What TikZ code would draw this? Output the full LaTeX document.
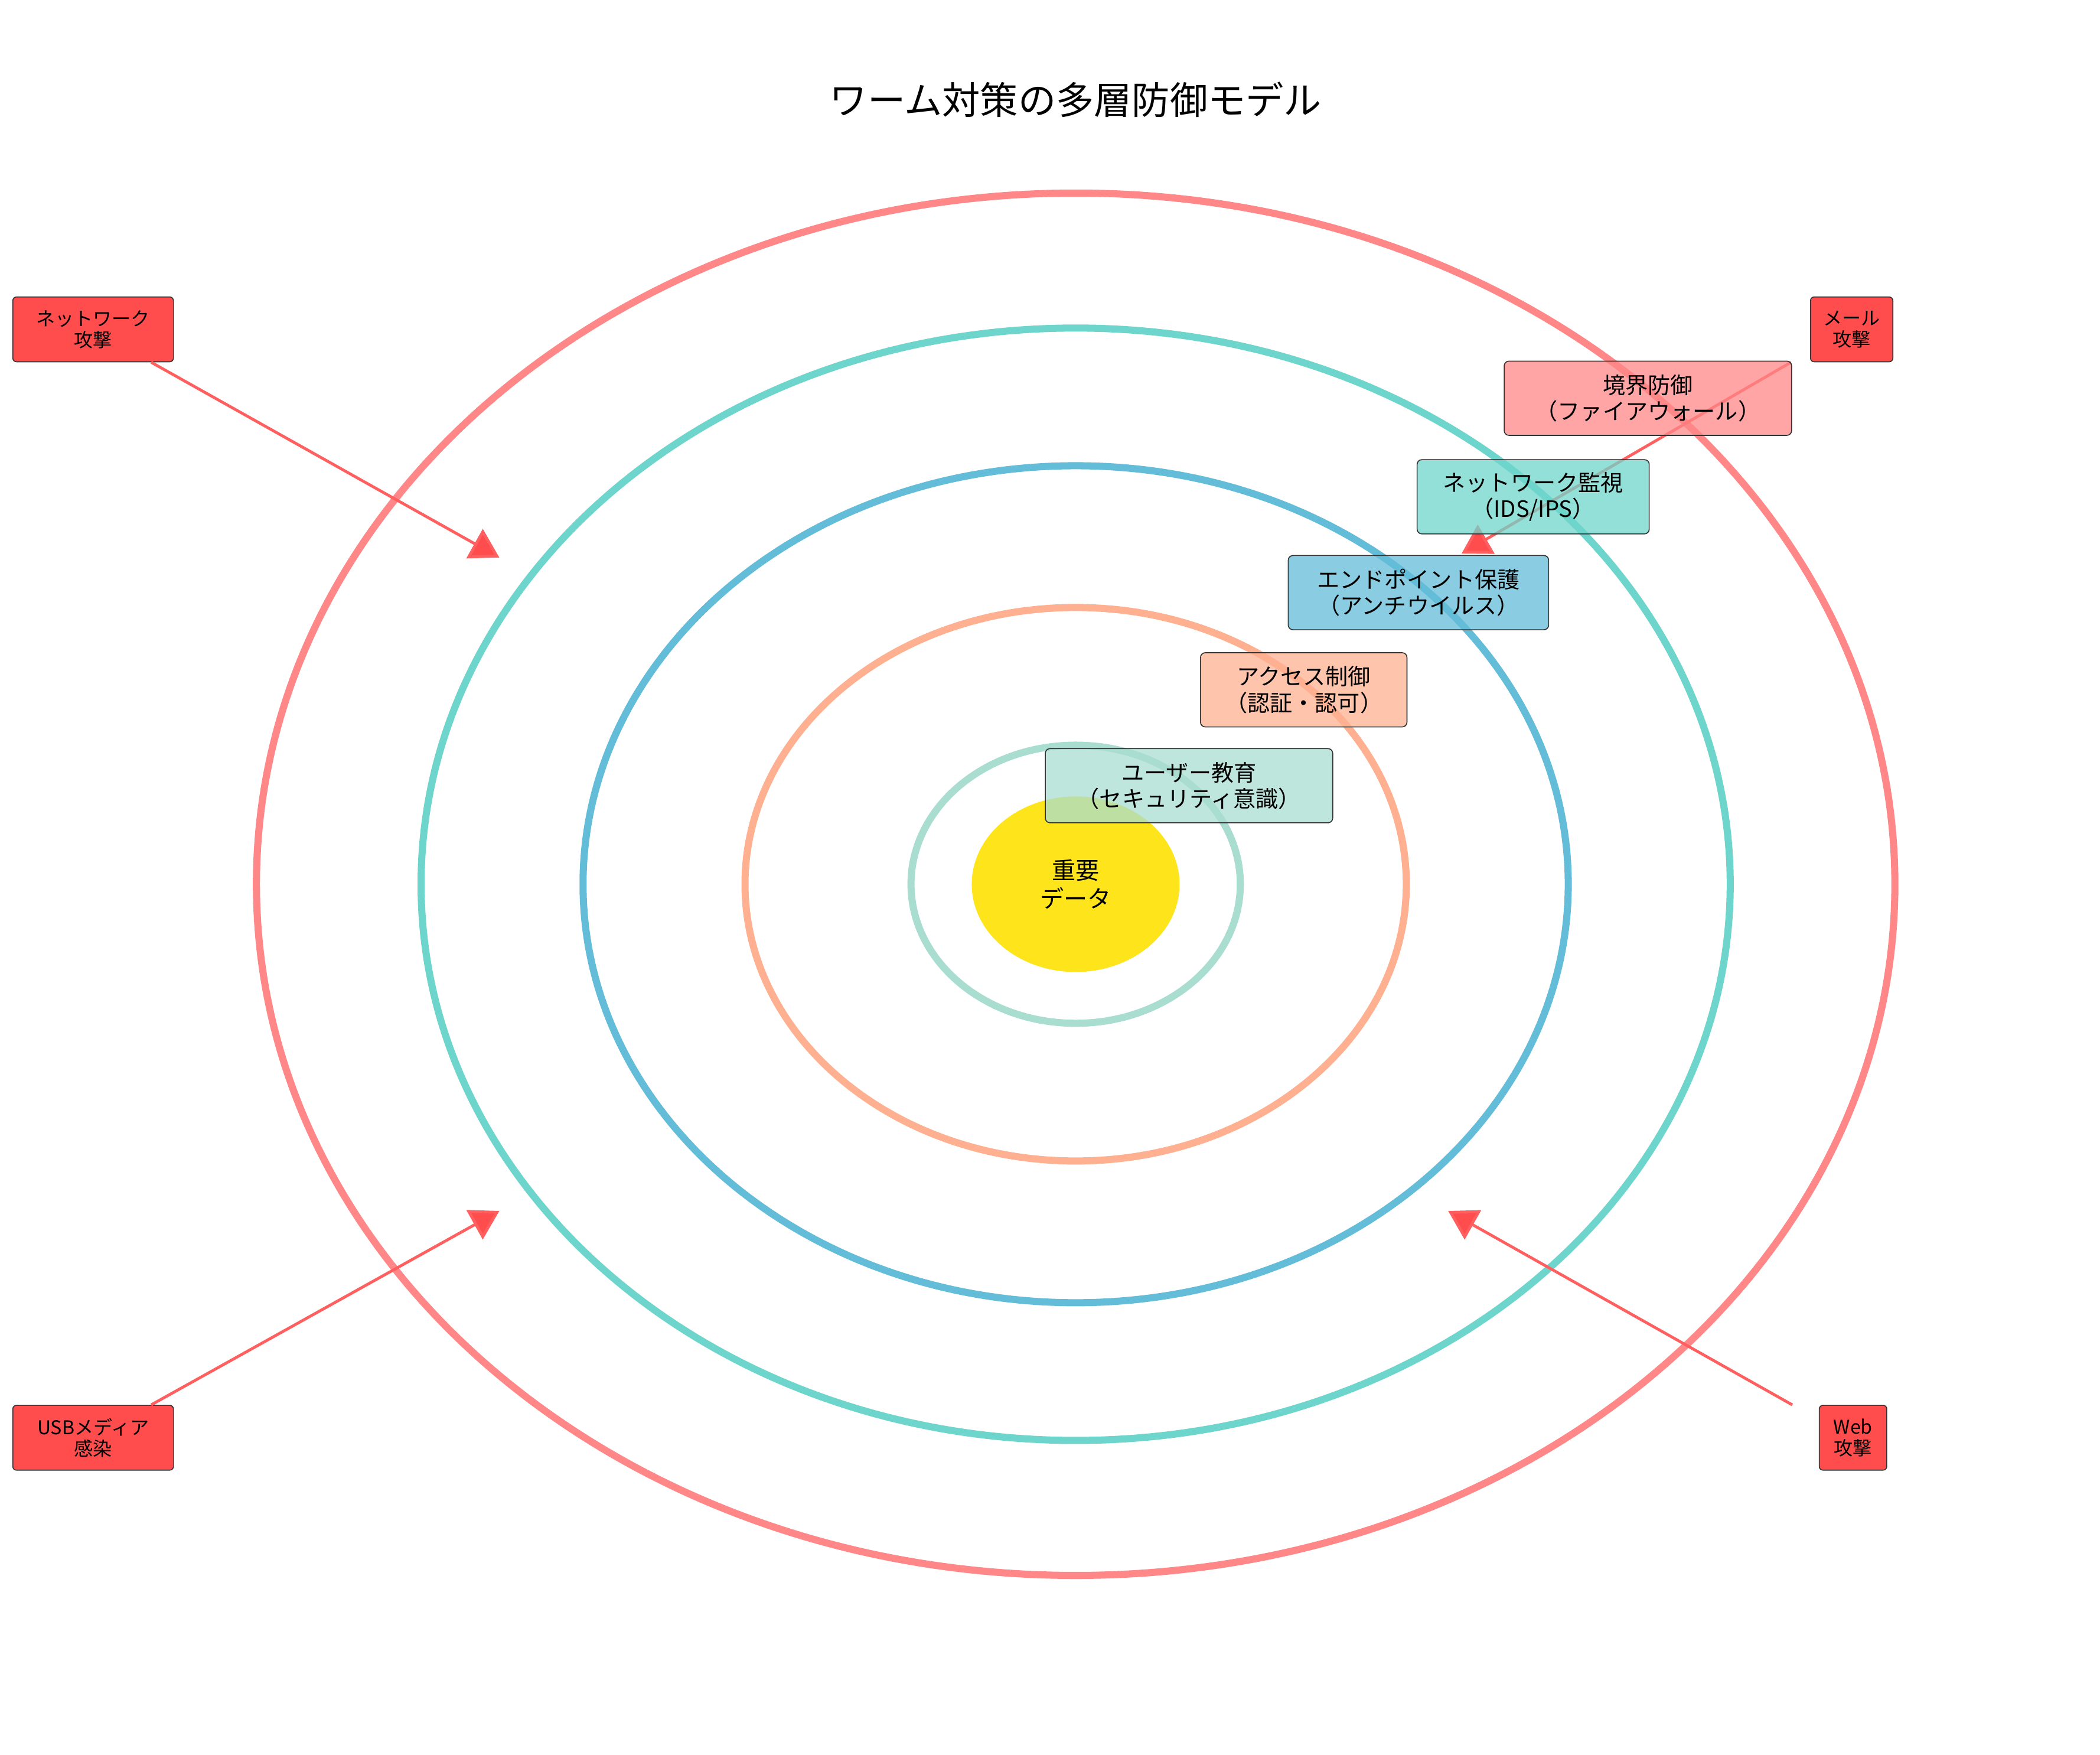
\documentclass[tikz,border=0pt]{standalone}
\usepackage{fontspec}
\setmainfont{Noto Sans CJK JP}
\usetikzlibrary{arrows.meta}
\definecolor{ringred}{HTML}{FF8787}
\definecolor{ringteal}{HTML}{6DD5CB}
\definecolor{ringblue}{HTML}{63BCD8}
\definecolor{ringorange}{HTML}{FFB090}
\definecolor{ringmint}{HTML}{A8DDD0}
\definecolor{attack}{HTML}{FF4D4D}
\tikzset{
  layer/.style={draw=black!80,rounded corners=2pt,fill opacity=.75,text opacity=1,align=center,font=\fontsize{9.5}{11}\selectfont,minimum height=1.1cm,inner xsep=4pt},
  threat/.style={draw=black!80,fill=attack,rounded corners=1.5pt,align=center,font=\fontsize{8}{9}\selectfont,minimum height=.96cm,inner xsep=1pt},
  hit/.style={very thick,draw=attack!90,-{Triangle[length=12pt,width=14pt,fill=attack]}}
}
\begin{document}
\begin{tikzpicture}[x=0.02cm,y=-0.02cm]
\useasboundingbox (0,0) rectangle (1556,1300);
\node[font=\fontsize{16}{18}\selectfont] (title) at (797,74) {ワーム対策の多層防御モデル};
\draw[ringred,line width=3pt] (797,655) ellipse[x radius=607,y radius=512];
\draw[ringteal,line width=3pt] (797,655) ellipse[x radius=485,y radius=412];
\draw[ringblue,line width=3pt] (797,655) ellipse[x radius=365,y radius=310];
\draw[ringorange,line width=3pt] (797,655) ellipse[x radius=245,y radius=205];
\draw[ringmint,line width=3pt] (797,655) ellipse[x radius=122,y radius=103];
\fill[yellow!85!orange!90!white] (797,655) ellipse[x radius=77,y radius=65];
\node[align=center,font=\fontsize{10}{12}\selectfont] (data) at (797,655) {重要\\データ};
% attacks
\node[threat,minimum width=2.38cm] (netatk) at (69,244) {ネットワーク\\攻撃};
\node[threat,minimum width=1.22cm] (mailatk) at (1372,244) {メール\\攻撃};
\node[threat,minimum width=2.38cm] (usbatk) at (69,1065) {USBメディア\\感染};
\node[threat,minimum width=1.0cm] (webatk) at (1373,1065) {Web\\攻撃};
\coordinate (netend) at (370,413);
\coordinate (mailend) at (1083,410);
\coordinate (usbend) at (370,897);
\coordinate (webend) at (1073,897);
\draw[hit] ([xshift=0.86cm]netatk.south) -- (netend);
\draw[hit] ([xshift=-0.9cm]mailatk.south) -- (mailend);
\draw[hit] ([xshift=0.86cm]usbatk.north) -- (usbend);
\draw[hit] ([xshift=-0.9cm]webatk.north) -- (webend);
% layers
\node[layer,fill=ringred,minimum width=4.26cm] (border) at (1221,295) {境界防御\\（ファイアウォール）};
\node[layer,fill=ringteal,minimum width=3.44cm] (netmon) at (1136,368) {ネットワーク監視\\（IDS/IPS）};
\node[layer,fill=ringblue,minimum width=3.86cm] (endpt) at (1051,439) {エンドポイント保護\\（アンチウイルス）};
\node[layer,fill=ringorange,minimum width=3.06cm] (access) at (966,511) {アクセス制御\\（認証・認可）};
\node[layer,fill=ringmint,minimum width=4.26cm] (educ) at (881,582) {ユーザー教育\\（セキュリティ意識）};
\end{tikzpicture}
\end{document}
